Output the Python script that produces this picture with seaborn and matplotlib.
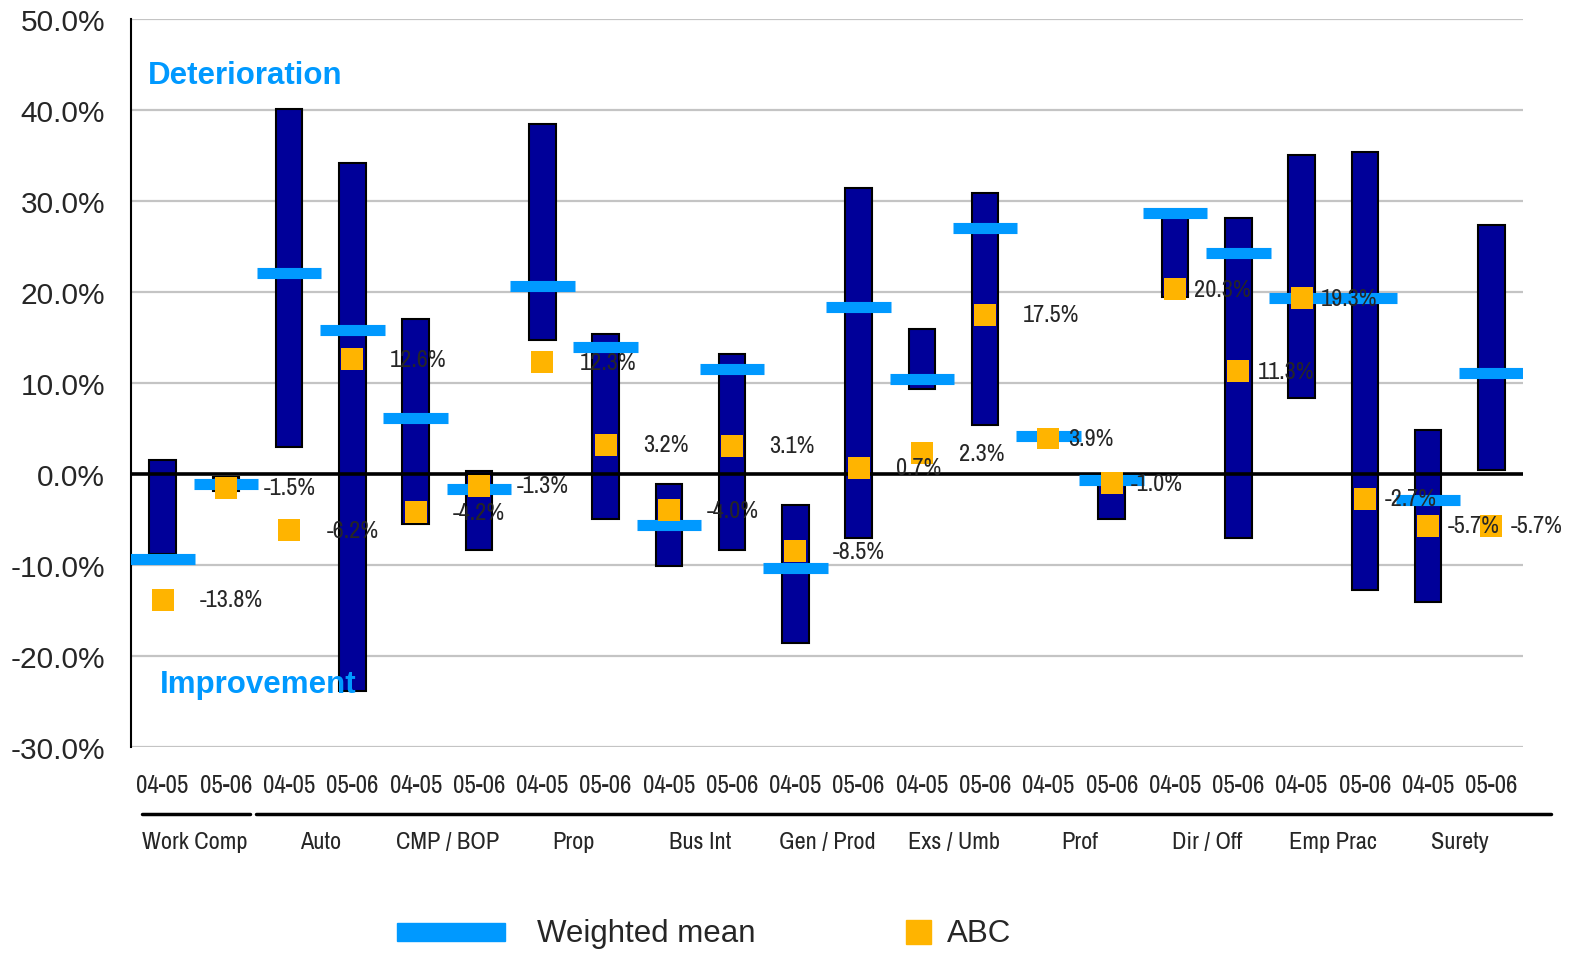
import matplotlib
matplotlib.use('Agg')
import matplotlib.pyplot as plt
from matplotlib import font_manager as fm
from matplotlib.font_manager import FontProperties
from matplotlib.lines import Line2D
from matplotlib.patches import Rectangle
from matplotlib.ticker import FuncFormatter
import numpy as np
import pandas as pd
import seaborn as sns

# lines of business, each shown for two periods
lines_of_business = ['Work Comp', 'Auto', 'CMP / BOP', 'Prop', 'Bus Int', 'Gen / Prod',
                     'Exs / Umb', 'Prof', 'Dir / Off', 'Emp Prac', 'Surety']
periods = ['04-05', '05-06']

# range of results (high / low) per position, in %
range_high = [1.5, -0.3, 40.1, 34.2, 17.0, 0.3, 38.5, 15.4, -1.1, 13.2, -3.4,
              31.4, 15.9, 30.9, 4.5, -0.3, 28.4, 28.1, 35.1, 35.4, 4.8, 27.4]
range_low = [-8.8, -1.9, 3.0, -23.8, -5.5, -8.4, 14.7, -4.9, -10.1, -8.4, -18.6,
             -7.0, 9.3, 5.4, 4.0, -4.9, 19.5, -7.0, 8.4, -12.7, -14.1, 0.4]
weighted_mean = [-9.3, -1.1, 22.1, 15.8, 6.2, -1.6, 20.7, 14.0, -5.6, 11.5, -10.3,
                 18.4, 10.4, 27.0, 4.2, -0.7, 28.7, 24.3, 19.3, 19.3, -2.9, 11.1]
abc = [-13.8, -1.5, -6.2, 12.6, -4.2, -1.3, 12.3, 3.2, -4.0, 3.1, -8.5,
       0.7, 2.3, 17.5, 3.9, -1.0, 20.3, 11.3, 19.3, -2.7, -5.7, -5.7]

NAVY = '#000099'
BLUE = '#0099ff'
AMBER = '#ffb400'

df = pd.DataFrame({
    'pos': np.arange(len(abc)),
    'period': periods * len(lines_of_business),
    'high': range_high,
    'low': range_low,
    'mean': weighted_mean,
    'abc': abc,
})

sns.set_style('white')
plt.rcParams['font.family'] = ['Liberation Sans', 'DejaVu Sans']

# the original uses a narrow font for small labels; use one if installed
narrow = None
for f in fm.fontManager.ttflist:
    if f.weight not in (400, 'normal', 'regular') or f.style != 'normal':
        continue
    if 'Narrow' in f.name or 'Condensed' in f.name:
        narrow = FontProperties(family=f.name)
        break
    if f.stretch in ('condensed', 'semi-condensed') and narrow is None:
        narrow = FontProperties(family=f.name, stretch=f.stretch)
if narrow is not None:
    small_fp = narrow
    tick_size, label_size = 18, 17.5
else:
    small_fp = FontProperties(family='Liberation Sans')
    tick_size, label_size = 14.5, 15


def fp(size):
    p = small_fp.copy()
    p.set_size(size)
    return p


W, H = 1570, 954
fig = plt.figure(figsize=(W / 100, H / 100), dpi=100)
ax = fig.add_axes([131 / W, 1 - 748 / H, (1523 - 131) / W, (748 - 20) / H])

ax.set_xlim(-0.5, 21.5)
ax.set_ylim(-30, 50)
ax.set_yticks(range(-30, 51, 10))
ax.yaxis.set_major_formatter(FuncFormatter(lambda v, p: f'{v:.1f}%'))
ax.yaxis.grid(True, color='#c4c4c4', linewidth=1.6)
ax.set_axisbelow(True)
for side in ['top', 'right', 'bottom']:
    ax.spines[side].set_visible(False)
ax.spines['left'].set_color('black')
ax.spines['left'].set_linewidth(1.5)
ax.tick_params(axis='y', length=0, pad=18.5, labelsize=21.5)

# floating range bars
ax.bar(df['pos'], df['high'] - df['low'], bottom=df['low'], width=0.42,
       color=NAVY, edgecolor='black', linewidth=1.5, zorder=2)
ax.axhline(0, color='black', linewidth=2.6, zorder=2.5)

# weighted mean dashes
ax.hlines(df['mean'], df['pos'] - 0.51, df['pos'] + 0.51, color=BLUE,
          linewidth=8, zorder=3)

# ABC markers
sns.scatterplot(data=df, x='pos', y='abc', marker='s', s=250, color=AMBER,
                edgecolor='none', zorder=4, ax=ax, legend=False)

for i, row in df.iterrows():
    dx = 27 if i < 14 else 14
    ax.annotate(f"{row['abc']:.1f}%", (row['pos'], row['abc']), xytext=(dx, 0),
                textcoords='offset points', ha='left', va='center',
                fontproperties=fp(label_size), zorder=5)

ax.set_xticks(df['pos'])
ax.set_xticklabels(df['period'])
for t in ax.get_xticklabels():
    t.set_fontproperties(fp(tick_size))
ax.tick_params(axis='x', length=0, pad=19)
ax.set_xlabel('')
ax.set_ylabel('')

# group labels under the period ticks
xt = ax.get_xaxis_transform()
for k, name in enumerate(lines_of_business):
    ax.text(2 * k + 0.5, -0.13, name, transform=xt, ha='center', va='center',
            fontproperties=fp(label_size))
for x0, x1 in [(-0.33, 1.38), (1.47, 21.95)]:
    ax.add_line(Line2D([x0, x1], [-0.092, -0.092], transform=xt, color='black',
                       linewidth=2.5, clip_on=False))

ax.text(0.012, 0.923, 'Deterioration', transform=ax.transAxes, color=BLUE,
        fontsize=22.5, fontweight='bold', va='center', ha='left')
ax.text(0.021, 0.087, 'Improvement', transform=ax.transAxes, color=BLUE,
        fontsize=22.5, fontweight='bold', va='center', ha='left', zorder=6)

# legend
fig.add_artist(Rectangle((397 / W, 1 - 942 / H), 108 / W, 18 / H,
                         transform=fig.transFigure, color=BLUE))
fig.text(537 / W, 1 - 934 / H, 'Weighted mean', fontsize=22.5, va='center', ha='left')
fig.add_artist(Rectangle((906 / W, 1 - 945 / H), 25 / W, 24 / H,
                         transform=fig.transFigure, color=AMBER))
fig.text(947 / W, 1 - 934 / H, 'ABC', fontsize=22.5, va='center', ha='left')

fig.savefig('out.png', dpi=100)
